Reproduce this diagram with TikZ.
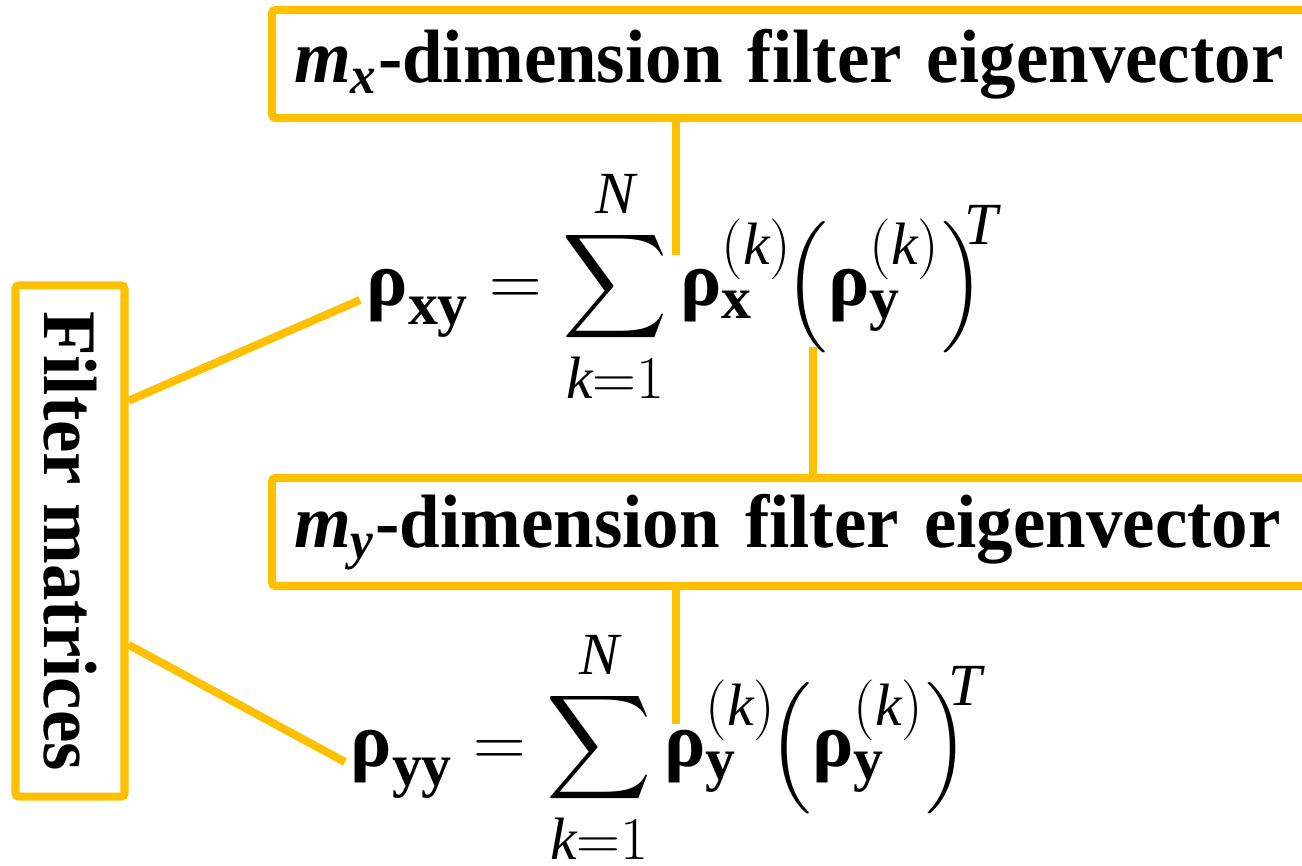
\documentclass[tikz,border=0pt]{standalone}
\usepackage{amsmath}
\usepackage{fontspec}
\setmainfont{Liberation Serif}
\newfontfamily\boxfont[FakeStretch=0.965]{Liberation Serif}
\DeclareMathSizes{22}{22}{17}{13}
\definecolor{FiltGold}{RGB}{255,192,0}
\usetikzlibrary{calc}
\newcommand{\brho}{\mbox{\bfseries ρ}}

\begin{document}
\begin{tikzpicture}[x=0.01cm, y=-0.01cm,
    goldbox/.style={draw=FiltGold, line width=2.3pt, rounded corners=1pt},
    goldline/.style={FiltGold, line width=2.3pt},
    boxtext/.style={font=\boxfont\fontsize{21.5}{24}\selectfont\bfseries},
    eqtext/.style={font=\fontsize{22}{26}\selectfont, inner sep=0pt}
  ]
  \useasboundingbox (0,0) rectangle (1302,866);
  \node[goldbox, boxtext, anchor=west, inner xsep=0.22cm, text width=11cm,
        align=left, minimum height=1.08cm] (xbox) at (268,64)
       {$\textit{m}_{\textit{x}}$-dimension filter eigenvector};
  \node[goldbox, boxtext, anchor=west, inner xsep=0.22cm, text width=11cm,
        align=left, minimum height=1.08cm] (ybox) at (268,532)
       {$\textit{m}_{\textit{y}}$-dimension filter eigenvector};
  \node[goldbox, boxtext, minimum width=1.09cm, minimum height=5.11cm]
       (fm) at (70,541) {\rotatebox{-90}{Filter matrices}};
  \node[eqtext, anchor=base west] (eqxy) at (366,305)
       {$\displaystyle \brho_{\mathbf{xy}} = \sum_{\mathit{k}=1}^{\mathit{N}}
        \brho_{\mathbf{x}}^{(\mathit{k})}\mkern-2mu
        \Bigl(\brho_{\mathbf{y}}^{(\mathit{k})}\Bigr)^{\mkern-6mu\mathit{T}}$};
  \node[eqtext, anchor=base west] (eqyy) at (350,766)
       {$\displaystyle \brho_{\mathbf{yy}} = \sum_{\mathit{k}=1}^{\mathit{N}}
        \brho_{\mathbf{y}}^{(\mathit{k})}\mkern-2mu
        \Bigl(\brho_{\mathbf{y}}^{(\mathit{k})}\Bigr)^{\mkern-6mu\mathit{T}}$};
  \coordinate (xtip) at (676,255);
  \coordinate (ytip) at (813,347);
  \coordinate (yytip) at (676,724);
  \coordinate (xyend) at (360,300);
  \coordinate (yyend) at (345,762);
  \draw[goldline] (xbox.south -| xtip) -- (xtip);
  \draw[goldline] (ytip) -- (ytip |- ybox.north);
  \draw[goldline] (ybox.south -| yytip) -- (yytip);
  \draw[goldline] ($(fm.north east)!0.23!(fm.south east)$) -- (xyend);
  \draw[goldline] ($(fm.north east)!0.70!(fm.south east)$) -- (yyend);
\end{tikzpicture}
\end{document}
